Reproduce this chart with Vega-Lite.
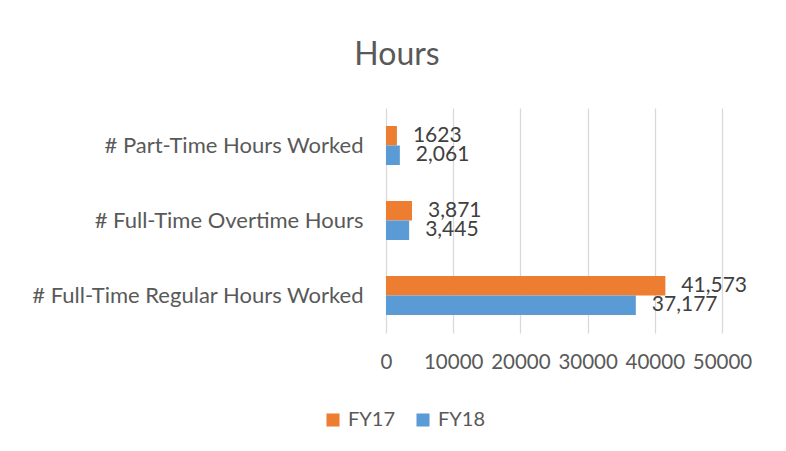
{
  "$schema": "https://vega.github.io/schema/vega-lite/v6.json",
  "autosize": {"type": "none"},
  "width": 336,
  "height": 225,
  "padding": {"left": 386, "top": 108, "right": 64, "bottom": 118},
  "background": "white",
  "title": {
    "text": "Hours",
    "anchor": "middle",
    "frame": "group",
    "dx": -157,
    "offset": 36,
    "font": "Lato",
    "fontSize": 32,
    "fontWeight": "normal",
    "color": "#595959"
  },
  "data": {
    "values": [
      {"category": "# Part-Time Hours Worked", "year": "FY17", "hours": 1623, "label": "1623"},
      {"category": "# Part-Time Hours Worked", "year": "FY18", "hours": 2061, "label": "2,061"},
      {"category": "# Full-Time Overtime Hours", "year": "FY17", "hours": 3871, "label": "3,871"},
      {"category": "# Full-Time Overtime Hours", "year": "FY18", "hours": 3445, "label": "3,445"},
      {"category": "# Full-Time Regular Hours Worked", "year": "FY17", "hours": 41573, "label": "41,573"},
      {"category": "# Full-Time Regular Hours Worked", "year": "FY18", "hours": 37177, "label": "37,177"}
    ]
  },
  "encoding": {
    "y": {
      "field": "category",
      "type": "nominal",
      "sort": ["# Part-Time Hours Worked", "# Full-Time Overtime Hours", "# Full-Time Regular Hours Worked"],
      "scale": {"paddingInner": 0.48, "paddingOuter": 0.24},
      "axis": {
        "title": null,
        "ticks": false,
        "domain": false,
        "labelPadding": 23,
        "labelFont": "Lato",
        "labelFontSize": 22,
        "labelColor": "#595959",
        "labelLimit": 400
      }
    },
    "yOffset": {"field": "year", "type": "nominal", "sort": ["FY17", "FY18"]},
    "x": {
      "field": "hours",
      "type": "quantitative",
      "scale": {"domain": [0, 50000], "nice": false},
      "axis": {
        "title": null,
        "values": [0, 10000, 20000, 30000, 40000, 50000],
        "format": "d",
        "labelOverlap": false,
        "labelFlush": false,
        "labelBound": false,
        "domain": false,
        "ticks": false,
        "grid": true,
        "gridColor": "#d9d9d9",
        "gridWidth": 1.3,
        "labelPadding": 19,
        "labelFont": "Lato",
        "labelFontSize": 20.5,
        "labelColor": "#595959"
      }
    }
  },
  "layer": [
    {
      "mark": {"type": "bar"},
      "encoding": {
        "color": {
          "field": "year",
          "type": "nominal",
          "scale": {"domain": ["FY17", "FY18"], "range": ["#ED7D31", "#5B9BD5"]},
          "legend": {
            "title": null,
            "orient": "none",
            "direction": "horizontal",
            "legendX": -63,
            "legendY": 302,
            "symbolType": "square",
            "symbolSize": 170,
            "symbolStrokeWidth": 0,
            "labelFont": "Lato",
            "labelFontSize": 20,
            "labelColor": "#595959",
            "labelOffset": 5,
            "columnPadding": 18
          }
        }
      }
    },
    {
      "mark": {"type": "text", "align": "left", "baseline": "middle", "dx": 16, "font": "Lato", "fontSize": 21, "color": "#404040"},
      "encoding": {"text": {"field": "label"}}
    }
  ],
  "config": {"view": {"stroke": null}}
}
